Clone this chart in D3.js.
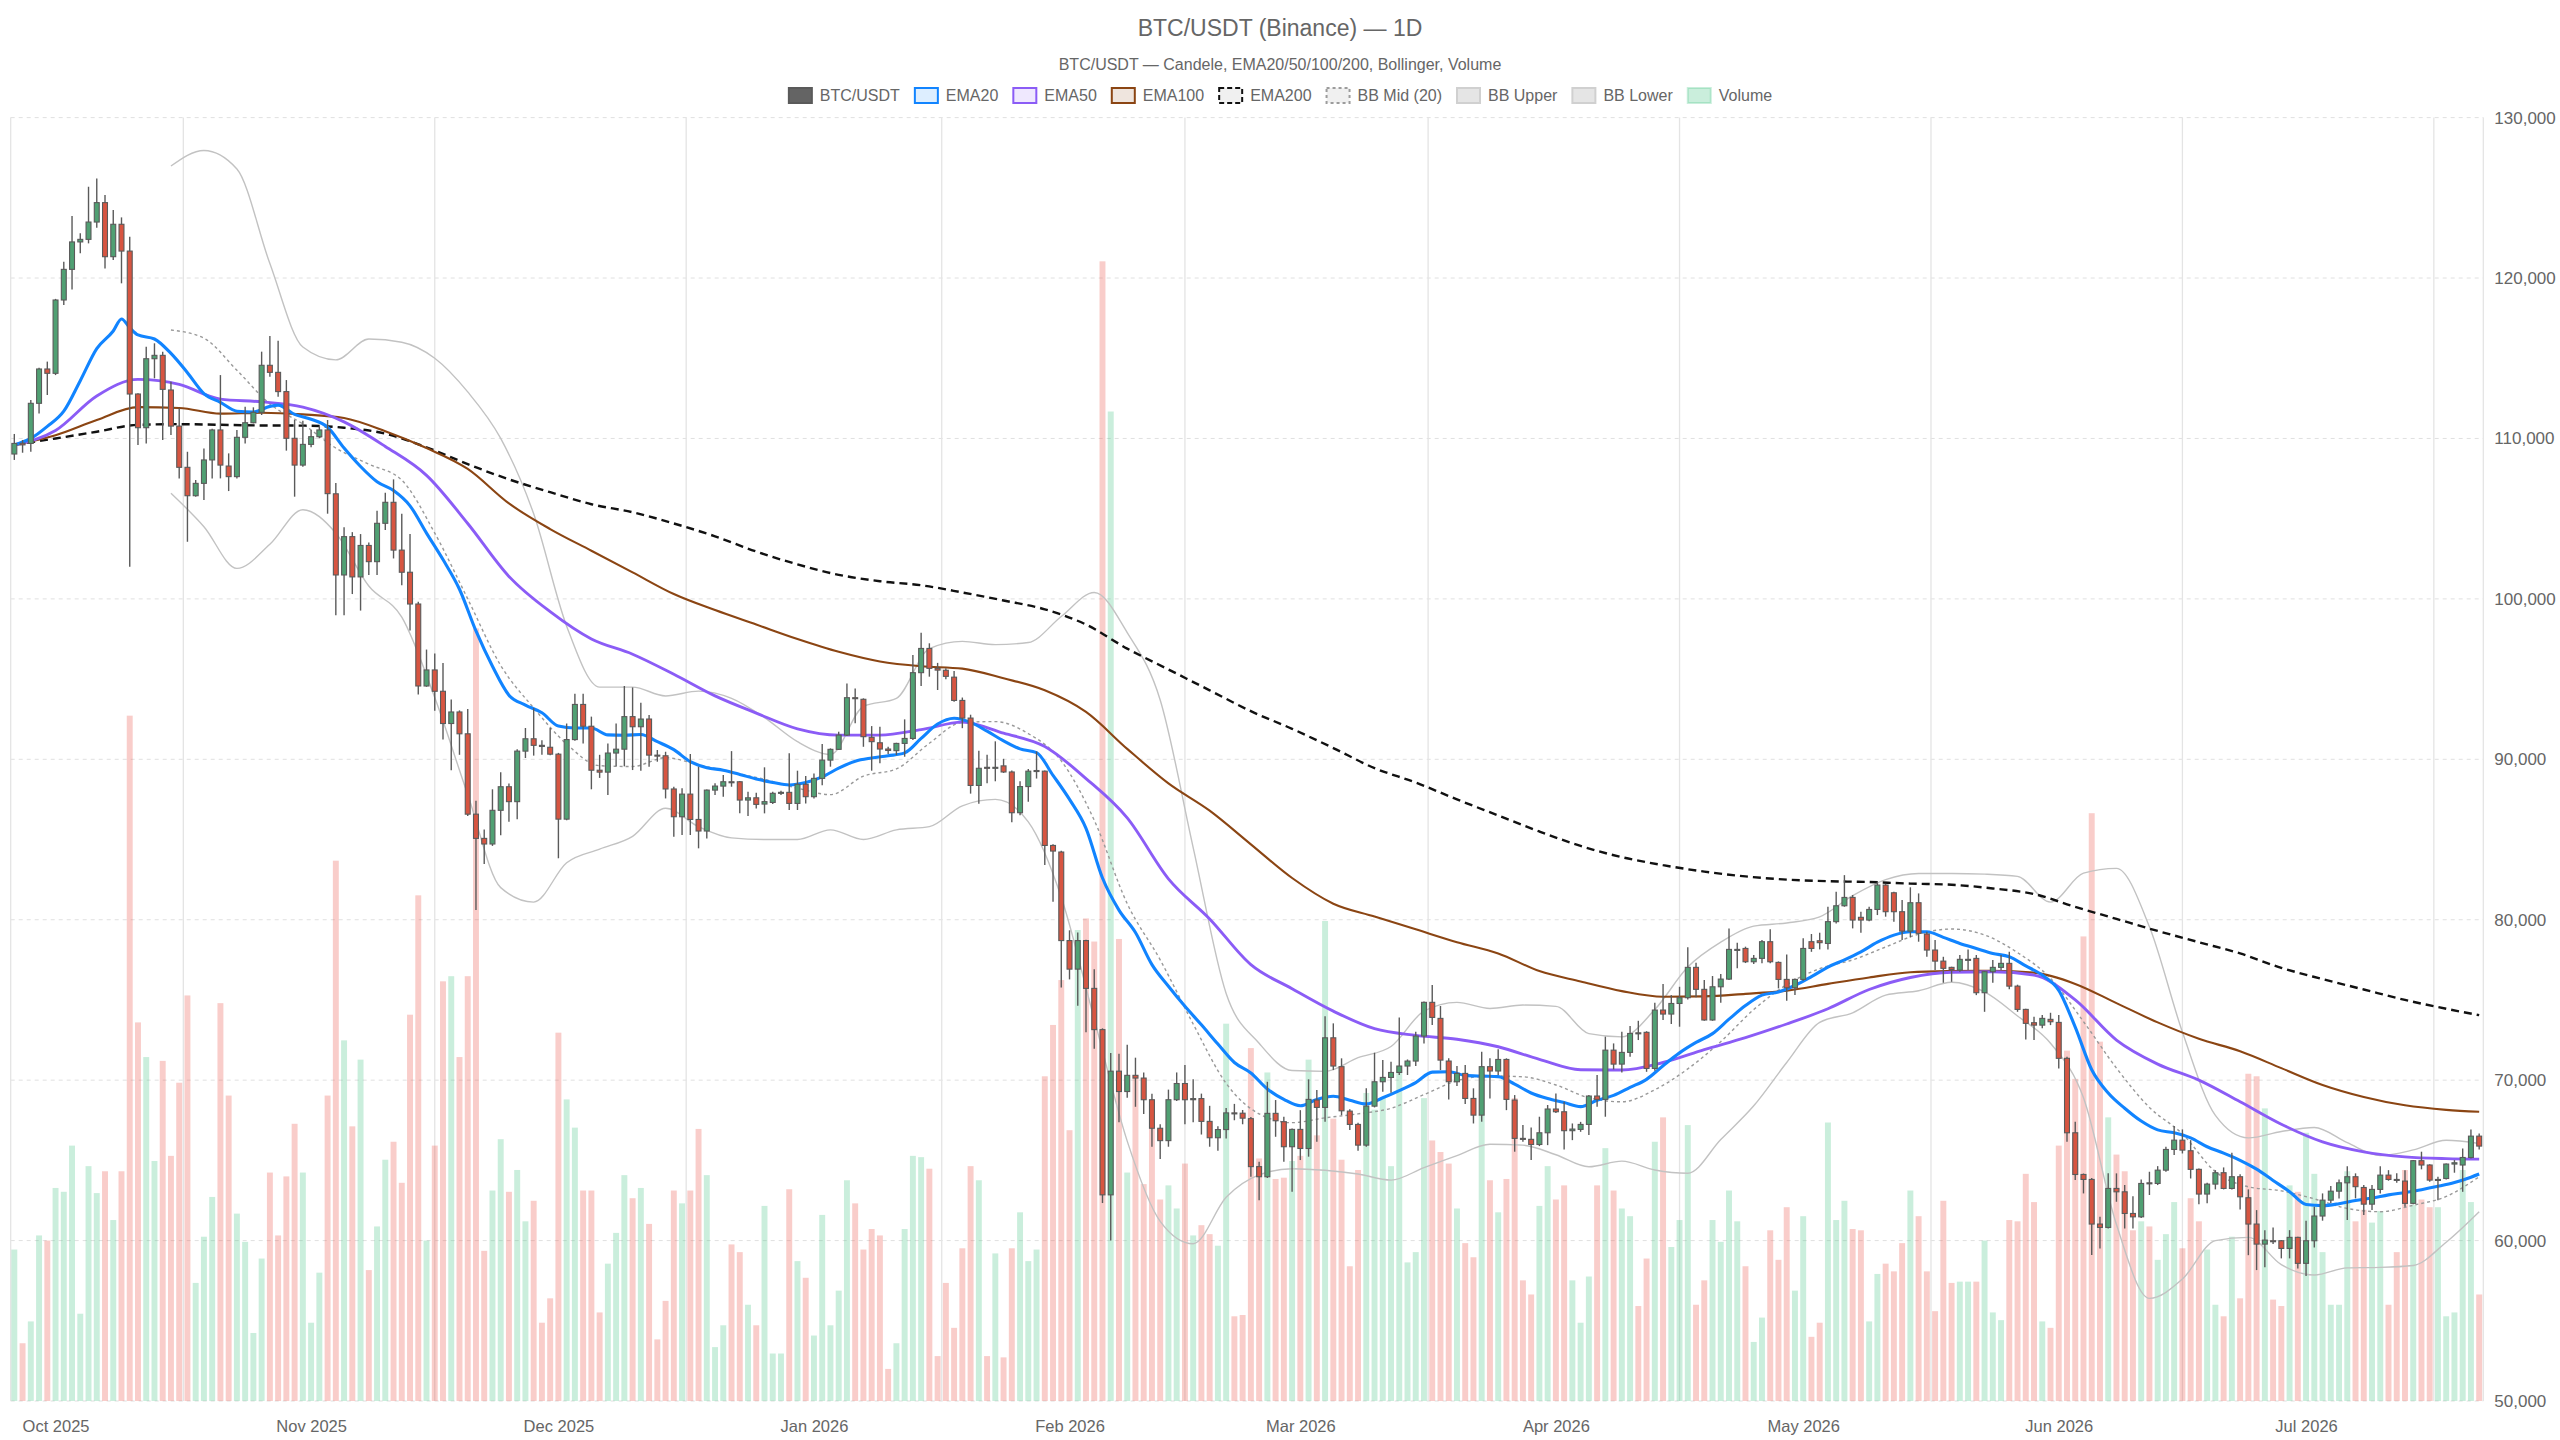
<!DOCTYPE html>
<html>
<head>
<meta charset="utf-8">
<script src="https://cdn.jsdelivr.net/npm/d3@7"></script>
<style>
  html, body { margin: 0; padding: 0; background: #fff; }
  svg { display: block; font-family: "Liberation Sans", Arial, Helvetica, sans-serif; }
</style>
</head>
<body>
<div id="chart"></div>
<script>
// daily candles, first one is 2025-09-26
const firstDay = "2025-09-26";

const opens = [109030,109700,109690,112190,114330,114060,118630,120540,122250,122410,
123490,124700,121330,123350,121680,112770,110670,114970,115180,113020,
110770,108200,106430,107200,108660,110530,108280,107620,110070,110980,
111630,114560,114120,112920,110010,108340,109630,110110,110530,106550,
101490,103880,101370,103330,102320,104710,106020,103040,101660,99680,
94570,95570,94240,92230,92950,91590,86580,85070,84720,86820,
88290,87360,90510,91280,90870,90750,90320,86270,91230,93420,
92060,89320,89200,90390,90630,92660,92030,92510,90260,90220,
88150,86420,87830,86250,85530,88080,88330,88600,88600,87460,
87600,87210,87310,87880,87940,87250,88440,87670,88810,89950,
90620,91510,93840,93740,91370,91030,90640,90540,90990,91300,
95400,96910,95670,95550,95120,93670,92570,88370,89500,89440,
89590,89210,86670,88300,89260,89260,84630,84220,78700,76920,
78700,75720,73150,62850,70560,69290,70300,70130,68780,67000,
66230,68780,69790,68780,68850,67430,66410,66920,67960,67940,
67600,64610,63980,67930,67410,65850,66930,65740,68760,68300,
72640,70840,68070,67240,65950,68380,69900,70170,70480,70880,
71190,72750,74850,73850,71190,69900,70420,68860,67820,70840,
70570,71290,68760,66370,66310,65990,66720,68200,68030,66850,
66930,67240,69010,68800,71870,71000,71730,72950,72980,70730,
74370,74120,74780,75140,77030,75660,73750,75820,76300,78100,
78210,77380,77590,78630,77340,76280,75760,76280,78630,78690,
78520,79880,80870,81390,80150,79980,80640,82160,81680,80500,
79290,81060,79110,78110,77420,77030,76860,77500,77590,75450,
76760,77030,77280,75860,74410,73580,73430,73790,73600,71360,
66720,64120,63810,61030,60820,63250,63040,61690,61480,63600,
63560,64390,65680,66260,65600,64440,62900,63520,64230,63250,
63980,62670,61030,59780,59990,59990,59510,60200,58580,59990,
61530,62520,63080,63600,63980,63310,62270,63190,64080,63810,
63710,62320,64980,64710,63800,63870,64770,64710,65180,66510];

const highs = [110280,109900,112400,114410,114790,118700,121020,123870,122790,125690,
126210,125180,124240,123780,122580,112810,115720,115930,115410,113540,
111880,109170,107410,109380,110600,113950,109070,110530,111980,111940,
115410,116390,116090,113640,111150,111110,110530,110770,111150,107220,
104470,104160,104040,103520,105500,106620,107450,105310,104040,99820,
96840,96600,96000,93730,93050,93140,87410,85620,88130,89200,
88490,90630,91950,93190,91180,91950,90400,92230,94090,94090,
92660,90280,90990,92230,94570,94480,93530,92760,90580,90470,
88290,88190,90330,89540,88120,88500,89020,90510,88650,87980,
87920,89500,87980,88040,90370,89290,88960,89120,90950,90680,
91720,94730,94420,93800,92070,92030,90780,91030,92490,96500,
97890,97230,96010,95680,95500,93850,92780,90540,90280,91120,
90030,89300,88630,89390,90490,89300,84700,84300,79340,79210,
78750,76920,73230,71700,71650,72210,71400,70480,69160,67250,
69410,70480,70940,70050,69160,68400,67120,68270,68520,68140,
67700,64910,69900,68760,67720,66990,68130,70050,69380,73990,
73540,71360,68180,67350,69490,71710,71250,71150,73910,71290,
73020,74900,75930,74620,71360,70880,70940,69490,71770,71360,
71920,71360,69070,67200,67050,67720,68450,69170,68650,67300,
67400,69070,70320,72710,72290,73020,73370,73700,73050,74830,
75990,75300,75820,78280,77320,76240,76490,76610,79460,78570,
78320,77800,78730,79400,77400,77840,76340,78840,79110,79190,
80810,81750,82780,81540,80500,80810,82370,82220,81750,81230,
82020,81640,79250,78730,77690,77070,77800,78150,77800,76800,
77490,77800,78000,75950,74450,73950,74060,74200,74060,71460,
67410,64180,63900,61480,64190,64190,63460,62770,63810,64290,
64640,65850,67140,66930,66260,64500,63600,64390,64560,65470,
64140,63190,61900,60650,60820,60030,60650,60240,61240,62110,
62940,63400,63810,64640,64190,63460,63460,64640,64390,64190,
64390,65020,65540,64750,63980,64810,65020,65740,66930,66680];

const lows = [108660,109110,109170,111560,112710,113950,118320,119290,121540,122160,
123140,120600,121120,119670,102000,109590,109690,113750,109900,110210,
107510,103560,106370,106160,107510,107510,106720,107510,109690,110940,
111460,113850,112600,109240,106370,108240,109450,110010,105310,98980,
98980,100300,99270,101490,101490,104300,102520,100850,98030,94040,
94520,93020,91230,89320,90280,86460,80610,83480,84600,85260,
86100,86270,90080,90230,90280,90250,83830,86200,91150,90990,
88130,88840,87770,89560,89560,89330,89290,89540,89850,87560,
85170,85280,85280,84450,85070,87770,87670,88290,86630,86460,
86940,86630,87210,87770,86840,86840,87250,87560,88390,89540,
90580,91450,92240,90780,89290,89750,90330,90260,90160,91200,
94570,95150,94320,94990,93590,91940,87860,87230,88500,88630,
89150,86080,86510,87360,88800,83410,81120,75780,76280,74630,
72980,71960,62340,60000,67380,68900,68340,67890,65850,65090,
65850,68700,67250,67380,66610,65850,65600,66360,67500,67250,
63980,62520,63900,66470,64910,63040,65020,65230,66160,67410,
70630,67820,66890,65600,65850,68300,69280,69220,70320,70320,
70880,72290,73430,70630,68800,69630,68510,67300,67410,68860,
70320,68130,65540,66160,65020,65890,65950,67950,65680,66260,
66780,66580,68340,67720,70670,70480,71460,72500,70520,70590,
73750,73500,73330,75030,75160,73700,73700,74830,76240,76970,
77300,77240,77280,77280,75720,74950,75300,76200,78000,78150,
78150,79770,80810,79460,79190,79900,80290,80190,79880,78730,
78900,78630,77690,76860,76070,76130,76760,76860,75300,74260,
76070,76860,75660,74260,72540,72500,73230,73430,70730,66160,
63770,62940,59100,59510,60750,62420,60760,60760,61400,62840,
63460,64290,65330,65430,63870,62270,62320,63190,63190,63190,
61940,59090,58160,58330,59780,58890,58890,58260,57790,59570,
61240,62320,62630,61280,62630,61590,61900,62940,63730,63600,
62110,62270,64440,63670,62520,63800,64230,63040,65120,65680];

const closes = [109690,109600,112190,114330,114060,118630,120540,122250,122410,123490,
124700,121330,123350,121680,112770,110670,114970,115180,113060,110770,
108200,106430,107200,108660,110530,108340,107620,110070,110980,111630,
114560,114120,112920,110010,108340,109630,110110,110530,106560,101490,
103880,101370,103330,102320,104710,106020,103040,101660,99680,94570,
95570,94240,92230,92950,91590,86580,85070,84720,86820,88290,
87360,90510,91280,90870,90800,90320,86270,91230,93420,92060,
89320,89200,90390,90630,92660,92030,92510,90260,90200,88150,
86420,87830,86250,85530,88080,88330,88600,88550,87460,87600,
87190,87360,87880,87940,87250,88440,87670,88810,89950,90620,
91510,93840,93790,91410,91100,90640,90550,90990,91300,95400,
96910,95670,95560,95170,93670,92570,88370,89440,89440,89500,
89210,86670,88300,89260,89300,84630,84280,78700,76920,78700,
75720,73150,62850,70560,69290,70300,70130,68780,67000,66230,
68780,69790,68780,68850,67430,66410,66920,67960,67940,67630,
64610,63980,67930,67470,65850,66930,65740,68800,68300,72640,
70880,68090,67240,65950,68380,69900,70170,70480,70880,71190,
72750,74850,73910,71250,69900,70420,68860,67820,70840,70570,
71290,68800,66370,66330,65990,66720,68200,68030,66850,66950,
67240,69010,68800,71870,71000,71730,72910,72910,70730,74370,
74120,74780,75140,77030,75660,73750,75820,76300,78150,78150,
77380,77590,78630,77380,76280,75760,76280,78210,78210,78570,
79880,80870,81390,79980,79980,80640,82160,80500,80500,79290,
81060,79150,78110,77420,76970,76900,77530,77530,75450,76760,
77030,77280,75860,74410,73540,73430,73850,73640,71360,66720,
64120,63810,61030,60820,63250,63040,61690,61480,63560,63560,
64390,65680,66260,65640,64440,62900,63520,64230,63250,63980,
62730,61030,59780,60030,59960,59510,60200,58580,59990,61530,
62520,63080,63600,63980,63360,62270,63190,64080,63810,63780,
62320,64980,64710,63770,63810,64770,64850,65180,66510,65890];

// volume, thousand BTC
const volumes = [11.8,4.5,6.2,12.9,12.5,16.6,16.3,19.9,6.8,18.3,
16.2,17.9,14.1,17.9,53.4,29.5,26.8,18.7,26.5,19.1,
24.8,31.6,9.2,12.8,15.9,31.0,23.8,14.6,12.4,5.3,
11.1,17.8,12.9,17.5,21.6,17.8,6.1,10.0,23.8,42.1,
28.1,21.4,26.6,10.2,13.6,18.8,20.2,17.0,30.1,39.4,
12.5,19.9,32.7,33.1,26.8,33.1,60.2,11.7,16.4,20.4,
16.3,18.0,14.0,15.6,6.1,8.0,28.7,23.5,21.3,16.4,
16.4,6.9,10.7,13.1,17.6,15.8,16.6,13.8,4.8,7.8,
16.4,15.4,16.4,21.2,17.6,4.2,5.9,12.2,11.6,7.5,
5.9,15.2,3.7,3.7,16.5,10.9,9.6,5.1,14.5,5.9,
8.6,17.2,15.4,11.8,13.4,12.9,2.5,4.5,13.4,19.1,
19.0,18.1,3.5,9.2,5.7,11.9,18.3,17.2,3.5,11.5,
3.4,11.9,14.7,10.9,11.8,25.3,29.3,32.8,21.1,36.7,
37.6,35.8,88.8,77.1,36.0,17.8,25.4,16.9,21.2,15.7,
16.8,15.0,18.5,12.9,13.7,13.0,12.1,29.4,6.6,6.7,
27.5,18.9,25.6,17.3,17.4,18.7,19.1,26.6,20.7,37.4,
22.0,18.8,10.5,18.0,24.0,22.7,23.6,18.3,25.8,10.8,
11.6,23.6,20.3,19.4,18.5,15.0,12.3,11.2,22.3,17.2,
14.7,17.3,23.6,9.4,8.3,15.2,18.3,15.7,16.8,9.4,
6.1,9.7,16.8,19.7,16.4,15.0,14.4,7.4,11.1,20.2,
22.1,12.0,14.1,21.5,7.5,9.4,14.1,12.4,16.4,14.0,
10.5,4.6,6.5,13.3,11.0,15.1,8.6,14.4,5.0,6.1,
21.7,14.1,15.6,13.4,13.3,6.2,9.9,10.7,10.1,12.3,
16.4,14.4,10.1,7.0,15.6,9.2,9.3,9.3,9.3,12.5,
6.9,6.3,14.1,14.0,17.7,15.5,6.2,5.7,19.9,27.3,
25.1,36.2,45.8,28.0,22.1,19.2,17.9,13.3,14.0,13.6,
11.0,13.0,15.5,11.9,15.8,14.0,11.8,7.5,6.6,12.8,
8.0,25.5,25.3,22.8,7.9,7.4,16.8,16.3,20.9,17.7,
11.6,7.5,7.5,17.9,14.0,14.9,13.9,14.8,7.5,11.6,
18.0,15.3,15.7,15.1,15.1,6.6,6.9,18.0,15.5,8.3];

// indicator lines, read at sample days (day number from firstDay)
const ema20Days = [0,2,4,6,8,10,12,13,14,15,17,19,21,23,25,27,29,31,32,34,36,38,40,42,44,46,48,50,52,54,56,58,60,62,64,66,68,70,72,74,76,78,80,82,84,86,88,90,92,94,96,98,100,102,104,106,108,110,112,114,116,118,120,122,124,126,128,130,132,134,136,138,140,142,144,146,148,150,152,154,156,158,160,162,164,166,168,170,172,174,176,178,180,182,184,186,188,190,192,194,196,198,200,202,204,206,208,210,212,214,216,218,220,222,224,226,228,230,232,234,236,238,240,242,244,246,248,250,252,254,256,258,260,262,264,266,268,270,272,274,276,278,280,282,284,286,288,290,292,294,296,298,299];
const ema20 = [109600,110000,110750,111700,113600,115600,116700,117450,116900,116450,116200,115300,114100,112800,112250,111700,111650,112000,112080,111500,111200,110700,109400,108250,107300,106750,105800,104100,102450,100600,98000,95800,94000,93380,92900,92070,91950,91950,91520,91500,91550,91100,90600,89850,89480,89320,89060,88770,88560,88400,88550,88900,89450,89880,90080,90220,90400,91300,92200,92560,92300,91750,91150,90650,90420,89000,87500,85700,82600,80600,79200,77200,75850,74600,73450,72250,71100,70450,69450,68800,68400,68800,69000,68750,68520,68900,69350,69850,70500,70520,70300,70250,70220,69750,69200,68850,68600,68350,68750,69050,69550,70050,70900,71700,72350,72900,73800,74650,75300,75500,75900,76450,77050,77500,78000,78600,79040,79250,79250,78900,78520,78210,77900,77690,77120,76550,75600,73300,70650,69200,68250,67450,66900,66720,66400,65850,65450,65000,64450,63750,63050,62250,62180,62300,62500,62650,62850,63000,63170,63380,63620,63950,64150];

const slowDays = [0,5,10,15,20,25,30,35,40,45,50,55,60,65,70,75,80,85,90,95,100,105,110,115,120,125,130,135,140,145,150,155,160,165,170,175,180,185,190,195,200,205,210,215,220,225,230,235,240,245,250,255,260,265,270,275,280,285,290,295,299];
const ema50 = [109600,110500,112650,113680,113370,112450,112280,111950,111030,109500,
107700,104700,101400,99200,97500,96550,95300,93950,92880,91900,
91510,91510,91850,92320,91630,90800,88800,86350,82550,80050,
77200,75700,74300,73210,72790,72550,72080,71300,70650,70630,
71100,71900,72650,73500,74450,75650,76400,76730,76760,76550,
75000,72500,71000,70000,68650,67250,66150,65530,65220,65110,65080];
const ema100 = [109600,110200,111150,111950,111900,111550,111600,111500,111270,110450,
109400,108100,105950,104350,103000,101650,100300,99300,98400,97500,
96700,96100,95800,95650,95050,94300,92950,90650,88500,86800,
84700,82600,81000,80200,79400,78600,77900,76800,76150,75550,
75200,75220,75380,75580,76000,76400,76730,76800,76820,76700,
76000,74800,73600,72580,71800,70750,69700,68950,68430,68150,68030];
const ema200 = [109600,110000,110420,110850,110890,110850,110810,110800,110670,110300,
109450,108400,107450,106650,105900,105400,104700,103900,102950,102150,
101500,101100,100850,100400,99900,99350,98400,96900,95600,94300,
93000,91900,90700,89450,88550,87500,86500,85500,84600,83900,
83400,83000,82700,82500,82400,82350,82250,82180,81950,81600,
80800,80050,79300,78600,77900,77000,76300,75650,75000,74450,74050];

const bbDays = [19,23,27,31,35,39,43,47,51,55,59,63,67,71,75,79,83,87,91,95,99,103,107,111,115,119,123,127,131,135,139,143,147,151,155,159,163,167,171,175,179,183,187,191,195,199,203,207,211,215,219,223,227,231,235,239,243,247,251,255,259,263,267,271,275,279,283,287,291,295,299];
const bbUpper = [126980,127950,126800,120900,115700,114900,116200,116000,115000,112900,
110000,105300,98300,94500,94500,93950,94250,93800,92600,91100,
90300,93300,93800,96900,97350,97150,97280,98900,100400,97900,
93700,84500,75400,72300,70600,70550,71400,72100,74300,74850,
74470,74680,74600,72900,72700,74400,77050,78600,79600,79800,
80180,81500,82500,82880,82880,82840,82700,81100,82900,83200,
79560,73000,67800,66400,66800,67050,66100,65300,65650,66250,66050];
const bbMid = [116760,116250,114250,112150,110900,109400,108400,107400,104100,100000,
95850,93200,90950,89600,89550,90100,89660,89200,88750,88200,
87800,88950,89400,91000,92300,92350,91600,89900,86200,81000,
77500,73500,69800,67900,67350,67650,67900,68250,69100,69960,
70260,70210,69700,68900,68650,69400,70700,72400,74400,75950,
76950,77500,78300,79100,79420,79050,77950,76350,73650,70750,
68300,66650,64300,63350,63100,62600,62000,61800,62200,62750,63980];
const bbLower = [106580,104500,101900,103400,105560,104100,100800,98860,93850,87800,
82000,81100,83550,84400,85200,86950,85800,85100,85000,85000,
85600,85000,85600,85800,87100,87500,86100,81400,73800,66200,
61200,59800,62700,64100,64480,64380,64150,63770,64550,65300,
66000,65950,65350,64600,64950,64400,64200,66300,68400,71100,
73600,74200,75300,75570,76100,75500,74000,72300,68900,61000,
56400,57600,60000,60200,58500,57850,58300,58330,58450,59900,61800];

const priceTicks = [50000,60000,70000,80000,90000,100000,110000,120000,130000];
const monthStarts = ["2025-10-01","2025-11-01","2025-12-01","2026-01-01","2026-02-01","2026-03-01","2026-04-01","2026-05-01","2026-06-01","2026-07-01","2026-08-01"];

const W = 2560, H = 1440;
const plot = { left: 10.7, right: 2483.3, top: 117.6, bottom: 1401 };

const parse = d3.utcParse("%Y-%m-%d");
const day0 = parse(firstDay);
const at = d => new Date(day0.getTime() + d * 864e5);

const x = d3.scaleUtc()
  .domain([at(-0.44), at(299.5)])
  .range([plot.left, plot.right]);
const y = d3.scaleLinear().domain([50000, 130000]).range([plot.bottom, plot.top]);
const yVol = d3.scaleLinear().domain([0, 100]).range([plot.bottom, plot.top]);

const candles = closes.map((c, i) => ({ i: i, o: opens[i], h: highs[i], l: lows[i], c: c, v: volumes[i] }));
const step = x(at(1)) - x(at(0));
const barW = step * 0.72;

const upFill = "rgb(80,160,115)", downFill = "rgb(215,85,65)", edge = "rgb(90,90,90)";

const svg = d3.select("#chart").append("svg")
  .attr("width", W).attr("height", H);

svg.append("rect").attr("width", W).attr("height", H).attr("fill", "#fff");

// title + subtitle
svg.append("text")
  .attr("x", W / 2).attr("y", 28).attr("text-anchor", "middle").attr("dominant-baseline", "central")
  .style("font-size", "23px").style("fill", "#666")
  .text("BTC/USDT (Binance) — 1D");
svg.append("text")
  .attr("x", W / 2).attr("y", 64.5).attr("text-anchor", "middle").attr("dominant-baseline", "central")
  .style("font-size", "16px").style("fill", "#666")
  .text("BTC/USDT — Candele, EMA20/50/100/200, Bollinger, Volume");

// grid
const grid = svg.append("g");
grid.selectAll(".hgrid").data(priceTicks).enter().append("line")
  .attr("x1", plot.left).attr("x2", plot.right)
  .attr("y1", d => y(d)).attr("y2", d => y(d))
  .attr("stroke", "#e0e0e0").attr("stroke-width", 1).attr("stroke-dasharray", "4,4");

const months = monthStarts.map(parse);
const mids = d3.pairs(months).map(p => new Date((p[0].getTime() + p[1].getTime()) / 2));
grid.selectAll(".vgrid").data(mids).enter().append("line")
  .attr("x1", d => x(d)).attr("x2", d => x(d))
  .attr("y1", plot.top).attr("y2", plot.bottom)
  .attr("stroke", "#e4e4e4").attr("stroke-width", 1.3);
[plot.left, plot.right].forEach(px => {
  grid.append("line").attr("x1", px).attr("x2", px).attr("y1", plot.top).attr("y2", plot.bottom)
    .attr("stroke", "#e4e4e4").attr("stroke-width", 1.3);
});

// volume
svg.append("g").selectAll("rect").data(candles).enter().append("rect")
  .attr("x", d => x(at(d.i)) - barW / 2)
  .attr("width", barW)
  .attr("y", d => yVol(d.v))
  .attr("height", d => plot.bottom - yVol(d.v))
  .attr("fill", d => d.c >= d.o ? "rgba(80,200,140,0.3)" : "rgba(235,90,80,0.3)");

// indicator lines
function drawLine(days, vals, color, width, dash) {
  const pts = days.map((d, k) => [d, vals[k]]);
  const line = d3.line()
    .x(p => x(at(p[0])))
    .y(p => y(p[1]))
    .curve(d3.curveMonotoneX);
  const p = svg.append("path").datum(pts)
    .attr("fill", "none")
    .attr("stroke", color)
    .attr("stroke-width", width)
    .attr("stroke-linejoin", "round")
    .attr("d", line);
  if (dash) p.attr("stroke-dasharray", dash);
}

drawLine(bbDays, bbLower, "#c2c2c2", 1.4);
drawLine(bbDays, bbUpper, "#c2c2c2", 1.4);
drawLine(bbDays, bbMid, "#999", 1.4, "3,3");
drawLine(slowDays, ema200, "#111", 2.4, "8,5");
drawLine(slowDays, ema100, "#8b4513", 2.1);
drawLine(slowDays, ema50, "#8b5cf6", 2.9);
drawLine(ema20Days, ema20, "#1184ff", 3.1);

// candles
const cg = svg.append("g");
cg.selectAll(".wick").data(candles).enter().append("line")
  .attr("x1", d => x(at(d.i))).attr("x2", d => x(at(d.i)))
  .attr("y1", d => y(Math.max(d.h, d.o, d.c)))
  .attr("y2", d => y(Math.min(d.l, d.o, d.c)))
  .attr("stroke", edge).attr("stroke-width", 1.4);
cg.selectAll(".body").data(candles).enter().append("rect")
  .attr("x", d => x(at(d.i)) - (barW - 1) / 2)
  .attr("width", barW - 1)
  .attr("y", d => y(Math.max(d.o, d.c)))
  .attr("height", d => Math.max(1, Math.abs(y(d.o) - y(d.c))))
  .attr("fill", d => d.c >= d.o ? upFill : downFill)
  .attr("stroke", edge).attr("stroke-width", 1.1);

// axes
const yAxis = svg.append("g")
  .attr("transform", `translate(${plot.right},0)`)
  .call(d3.axisRight(y).tickValues(priceTicks).tickFormat(d3.format(",")).tickSize(0).tickPadding(11));
yAxis.select(".domain").remove();
yAxis.selectAll("text").style("font-size", "17px").style("fill", "#666").style("font-family", "Liberation Sans, Arial, sans-serif");

const labelMonths = months.filter(m => m >= x.domain()[0] && m <= x.domain()[1]);
const xAxis = svg.append("g")
  .attr("transform", `translate(0,${plot.bottom})`)
  .call(d3.axisBottom(x).tickValues(labelMonths).tickFormat(d3.utcFormat("%b %Y")).tickSize(0).tickPadding(19));
xAxis.select(".domain").remove();
xAxis.selectAll("text").style("font-size", "16.5px").style("fill", "#666").style("font-family", "Liberation Sans, Arial, sans-serif");

// legend
const legendItems = [
  { label: "BTC/USDT", fill: "rgb(100,100,100)", stroke: "rgb(90,90,90)" },
  { label: "EMA20", fill: "rgba(17,132,255,0.14)", stroke: "#1184ff" },
  { label: "EMA50", fill: "rgba(139,92,246,0.14)", stroke: "#8b5cf6" },
  { label: "EMA100", fill: "rgba(139,69,19,0.14)", stroke: "#8b4513" },
  { label: "EMA200", fill: "rgba(0,0,0,0.06)", stroke: "#111", dash: "5,3" },
  { label: "BB Mid (20)", fill: "rgba(0,0,0,0.06)", stroke: "#9c9c9c", dash: "3,3" },
  { label: "BB Upper", fill: "rgba(0,0,0,0.1)", stroke: "#d0d0d0" },
  { label: "BB Lower", fill: "rgba(0,0,0,0.1)", stroke: "#d0d0d0" },
  { label: "Volume", fill: "rgba(80,200,140,0.3)", stroke: "rgba(80,200,140,0.3)" }
];
const boxW = 25, boxH = 17, boxGap = 7, itemGap = 14, legY = 95.5;
const legend = svg.append("g");
const widths = legendItems.map(it => {
  const t = legend.append("text").style("font-size", "16px").text(it.label);
  const w = t.node().getComputedTextLength();
  t.remove();
  return boxW + boxGap + w;
});
const total = d3.sum(widths) + itemGap * (legendItems.length - 1);
let lx = W / 2 - total / 2;
legendItems.forEach((it, k) => {
  const b = legend.append("rect")
    .attr("x", lx + 1).attr("y", legY - boxH / 2 + 1)
    .attr("width", boxW - 2).attr("height", boxH - 2)
    .attr("fill", it.fill).attr("stroke", it.stroke).attr("stroke-width", 2);
  if (it.dash) b.attr("stroke-dasharray", it.dash);
  legend.append("text")
    .attr("x", lx + boxW + boxGap).attr("y", legY)
    .attr("dominant-baseline", "central")
    .style("font-size", "16px").style("fill", "#666")
    .text(it.label);
  lx += widths[k] + itemGap;
});
</script>
</body>
</html>
